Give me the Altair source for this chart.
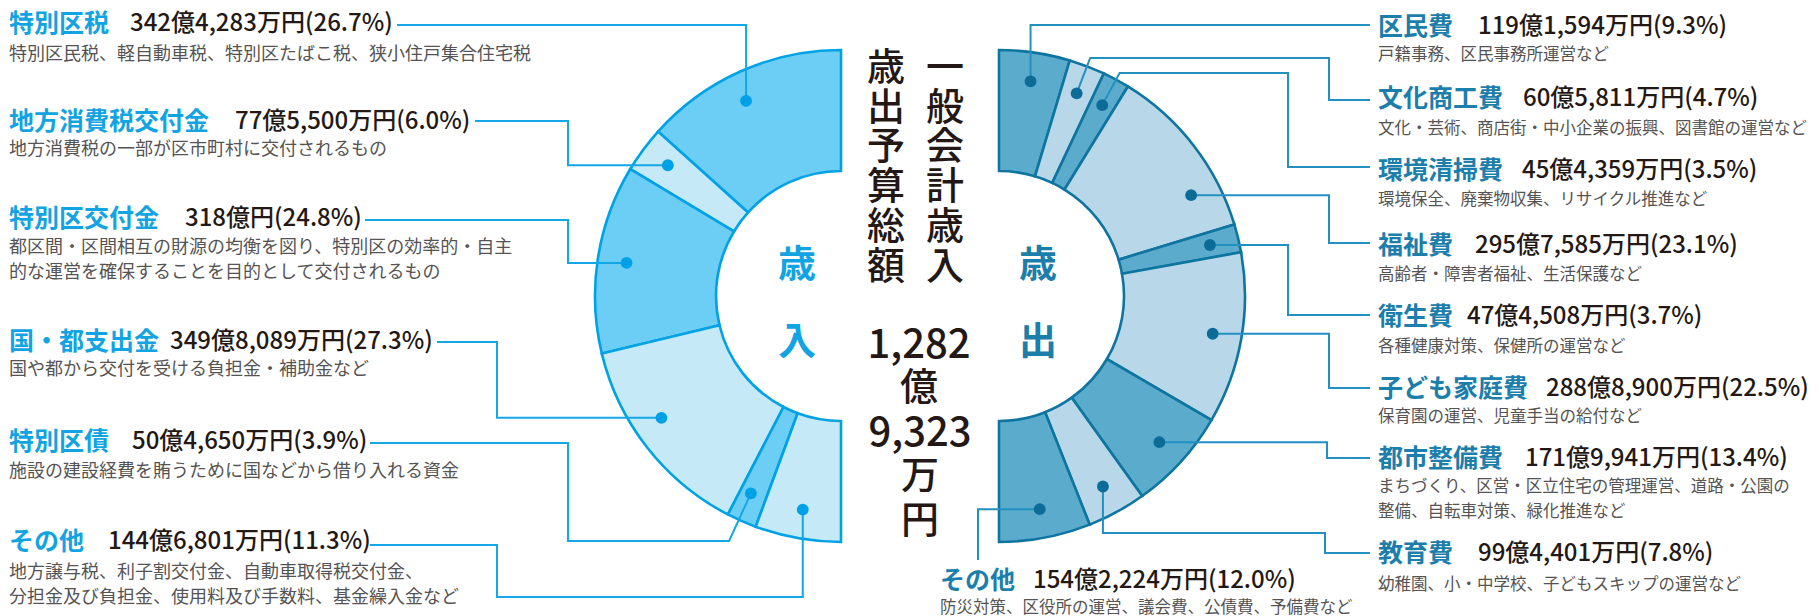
import math
import altair as alt
import pandas as pd

# ---------------- data ----------------
rev_names = ["特別区税", "地方消費税交付金", "特別区交付金", "国・都支出金", "特別区債", "その他"]
rev_values = [3424283, 775500, 3180000, 3498089, 504650, 1446801]  # 万円
rev_pct = [26.7, 6.0, 24.8, 27.3, 3.9, 11.3]
rev_notes = [
    ["特別区民税、軽自動車税、特別区たばこ税、狭小住戸集合住宅税"],
    ["地方消費税の一部が区市町村に交付されるもの"],
    ["都区間・区間相互の財源の均衡を図り、特別区の効率的・自主", "的な運営を確保することを目的として交付されるもの"],
    ["国や都から交付を受ける負担金・補助金など"],
    ["施設の建設経費を賄うために国などから借り入れる資金"],
    ["地方譲与税、利子割交付金、自動車取得税交付金、", "分担金及び負担金、使用料及び手数料、基金繰入金など"],
]

exp_names = ["区民費", "文化商工費", "環境清掃費", "福祉費", "衛生費", "子ども家庭費", "都市整備費", "教育費", "その他"]
exp_values = [1191594, 605811, 454359, 2957585, 474508, 2888900, 1719941, 994401, 1542224]  # 万円
exp_pct = [9.3, 4.7, 3.5, 23.1, 3.7, 22.5, 13.4, 7.8, 12.0]
exp_notes = [
    ["戸籍事務、区民事務所運営など"],
    ["文化・芸術、商店街・中小企業の振興、図書館の運営など"],
    ["環境保全、廃棄物収集、リサイクル推進など"],
    ["高齢者・障害者福祉、生活保護など"],
    ["各種健康対策、保健所の運営など"],
    ["保育園の運営、児童手当の給付など"],
    ["まちづくり、区営・区立住宅の管理運営、道路・公園の", "整備、自転車対策、緑化推進など"],
    ["幼稚園、小・中学校、子どもスキップの運営など"],
    ["防災対策、区役所の運営、議会費、公債費、予備費など"],
]

center_left_col = "歳出予算総額"
center_right_col = "一般会計歳入"
rev_side_label = "歳入"
exp_side_label = "歳出"

# ---------------- layout ----------------
W, H = 1819, 616
CX_L, CX_R, CY = 841, 999, 296
R_OUT, R_IN, R_DOT = 246, 125, 217

rev_dot_frac = [0.54, 0.45, 0.5, 0.42, 0.4, 0.5]
exp_dot_frac = [0.5, 0.5, 0.5, 0.74, 0.5, 0.5, 0.5, 0.5, 0.5]

rev_routes = [
    [("V", 25), ("H", 397)],
    [("H", 568), ("V", 121), ("H", 475)],
    [("H", 568), ("V", 220), ("H", 365)],
    [("H", 497), ("V", 342), ("H", 437)],
    [("R", 541), ("H", 568), ("V", 443), ("H", 370)],
    [("V", 597), ("H", 497), ("V", 545), ("H", 370)],
]
exp_routes = [
    [("V", 25), ("H", 1370)],
    [("R", 58), ("H", 1329), ("V", 100), ("H", 1370)],
    [("R", 73), ("H", 1288), ("V", 167), ("H", 1370)],
    [("H", 1329), ("V", 243), ("H", 1370)],
    [("H", 1288), ("V", 315), ("H", 1370)],
    [("H", 1329), ("V", 388), ("H", 1370)],
    [("H", 1327), ("V", 458), ("H", 1370)],
    [("V", 533), ("H", 1325), ("V", 553), ("H", 1370)],
    [("H", 978), ("V", 560)],
]

rev_title_x = [9] * 6
rev_title_y = [24, 122, 219, 342, 442, 542]
rev_amount_x = [130, 235, 185, 170, 132, 108]
rev_note_y = [55, 150, 248, 370, 472, 573]

exp_title_x = [1378] * 8 + [940]
exp_title_y = [27, 99, 170.5, 245.5, 317, 389, 459, 554, 580.5]
exp_amount_x = [1478, 1523, 1522, 1475, 1467, 1546, 1525, 1478, 1033]
exp_note_y = [55, 128.5, 200, 275, 346.5, 416.5, 486.5, 585, 607.5]
NOTE_STEP = 25

COL_X = {center_left_col: 886, center_right_col: 945}
COL_Y0, COL_STEP = 69, 39.7
SIDE_X = {rev_side_label: 797, exp_side_label: 1038}
SIDE_Y0, SIDE_STEP = 266, 77

# styles
REV_STROKE = "#00a2e6"
REV_FILLS = ["#6dcef5", "#c6e9f8"]
REV_TITLE = "#12a4e2"
REV_LINE = "#12a8e8"
REV_DOT = "#00a0e6"
EXP_STROKE = "#0e75a0"
EXP_FILLS = ["#5babcc", "#b8d8e9"]
EXP_TITLE = "#1b7eab"
EXP_LINE = "#2390c2"
EXP_DOT = "#0d6c97"
DARK = "#231815"
NOTE = "#555353"
JP = "Noto Sans CJK JP"
NOTE_SIZE = {"L": 18, "R": 16.5}


def fmt_amount(v, pct):
    oku, man = divmod(v, 10000)
    s = f"{oku}億" + (f"{man:,}万円" if man else "円")
    return f"{s}({pct:.1f}%)"


arc_rows, dot_rows, line_rows, text_rows = [], [], [], []


def build(names, values, pct, notes, side, fracs, routes, tx, ty, ax, ny):
    total = sum(values)
    cx = CX_L if side == "L" else CX_R
    sgn = -1 if side == "L" else 1
    fills = REV_FILLS if side == "L" else EXP_FILLS
    stroke = REV_STROKE if side == "L" else EXP_STROKE
    lcol = REV_LINE if side == "L" else EXP_LINE
    dcol = REV_DOT if side == "L" else EXP_DOT
    tcol = REV_TITLE if side == "L" else EXP_TITLE
    cum = 0.0
    for i, v in enumerate(values):
        f0, f1 = cum / total, (cum + v) / total
        cum += v
        if side == "L":
            t0, t1 = 2 * math.pi - f1 * math.pi, 2 * math.pi - f0 * math.pi
        else:
            t0, t1 = f0 * math.pi, f1 * math.pi
        arc_rows.append(dict(cx=cx, cy=CY, t0=t0, t1=t1, fill=fills[i % 2], stroke=stroke))
        ang = math.radians((f0 + (f1 - f0) * fracs[i]) * 180)
        px = cx + sgn * R_DOT * math.sin(ang)
        py = CY - R_DOT * math.cos(ang)
        dot_rows.append(dict(x=px, y=py, c=dcol))
        x, y = px, py
        pts = [(x, y)]
        for kind, val in routes[i]:
            if kind == "V":
                y = val
            elif kind == "H":
                x = val
            else:
                t = (val - py) / (py - CY)
                x, y = px + t * (px - cx), val
            pts.append((x, y))
        for k, (a, b) in enumerate(pts):
            line_rows.append(dict(key=f"{side}{i}", o=k, x=a, y=b, c=lcol))
        text_rows.append(dict(kind="title", x=tx[i], y=ty[i], t=names[i], c=tcol, s=25))
        text_rows.append(dict(kind="amount", x=ax[i], y=ty[i], t=fmt_amount(v, pct[i]), c=DARK, s=24))
        for k, line in enumerate(notes[i]):
            text_rows.append(dict(kind="note", x=tx[i], y=ny[i] + k * NOTE_STEP, t=line, c=NOTE,
                                  s=NOTE_SIZE[side]))


build(rev_names, rev_values, rev_pct, rev_notes, "L", rev_dot_frac, rev_routes,
      rev_title_x, rev_title_y, rev_amount_x, rev_note_y)
build(exp_names, exp_values, exp_pct, exp_notes, "R", exp_dot_frac, exp_routes,
      exp_title_x, exp_title_y, exp_amount_x, exp_note_y)

total = sum(rev_values)
oku, man = divmod(total, 10000)
num_rows = [dict(x=919, y=346, t=f"{oku:,}"), dict(x=920, y=434, t=f"{man:,}")]
kan_rows = [dict(x=919, y=389, t="億"), dict(x=920, y=477, t="万"), dict(x=920, y=522, t="円")]

# vertical texts: one row per character
col_rows = []
for word, cx in COL_X.items():
    for k, ch in enumerate(word):
        col_rows.append(dict(x=cx, y=COL_Y0 + k * COL_STEP, t=ch))
side_rows = []
for word, cx in SIDE_X.items():
    col = REV_TITLE if word == rev_side_label else EXP_TITLE
    for k, ch in enumerate(word):
        side_rows.append(dict(x=cx, y=SIDE_Y0 + k * SIDE_STEP, t=ch, c=col))

xs = alt.Scale(domain=[0, W], range=[0, W])
ys = alt.Scale(domain=[0, H], range=[0, H])
X = lambda f="x": alt.X(f"{f}:Q", scale=xs, axis=None)
Y = lambda f="y": alt.Y(f"{f}:Q", scale=ys, axis=None)

arcs = alt.Chart(pd.DataFrame(arc_rows)).mark_arc(strokeWidth=2.6, strokeJoin="miter").encode(
    x=X("cx"), y=Y("cy"),
    theta=alt.Theta("t0:Q", scale=None, stack=False),
    theta2="t1:Q",
    radius=alt.value(R_OUT), radius2=alt.value(R_IN),
    fill=alt.Fill("fill:N", scale=None),
    stroke=alt.Stroke("stroke:N", scale=None),
)

lines = alt.Chart(pd.DataFrame(line_rows)).mark_line(strokeWidth=2, strokeCap="butt").encode(
    x=X(), y=Y(), order="o:Q", detail="key:N",
    color=alt.Color("c:N", scale=None),
)

dots = alt.Chart(pd.DataFrame(dot_rows)).mark_circle(size=140, opacity=1).encode(
    x=X(), y=Y(), color=alt.Color("c:N", scale=None),
)

tdf = pd.DataFrame(text_rows)
titles = alt.Chart(tdf[tdf.kind == "title"]).mark_text(
    align="left", baseline="middle", font=JP, fontWeight="bold"
).encode(x=X(), y=Y(), text="t:N", color=alt.Color("c:N", scale=None),
         size=alt.Size("s:Q", scale=None))
amounts = alt.Chart(tdf[tdf.kind == "amount"]).mark_text(
    align="left", baseline="middle", font=JP, fontWeight=500
).encode(x=X(), y=Y(), text="t:N", color=alt.Color("c:N", scale=None),
         size=alt.Size("s:Q", scale=None))
notes_l = alt.Chart(tdf[tdf.kind == "note"]).mark_text(
    align="left", baseline="middle", font=JP
).encode(x=X(), y=Y(), text="t:N", color=alt.Color("c:N", scale=None),
         size=alt.Size("s:Q", scale=None))

nums = alt.Chart(pd.DataFrame(num_rows)).mark_text(
    align="center", baseline="middle", font=JP, fontSize=40, fontWeight=500, color=DARK
).encode(x=X(), y=Y(), text="t:N")
kans = alt.Chart(pd.DataFrame(kan_rows)).mark_text(
    align="center", baseline="middle", font=JP, fontSize=38, fontWeight=500, color=DARK
).encode(x=X(), y=Y(), text="t:N")
cols = alt.Chart(pd.DataFrame(col_rows)).mark_text(
    align="center", baseline="middle", font=JP, fontSize=38, fontWeight=500, color=DARK
).encode(x=X(), y=Y(), text="t:N")
sides = alt.Chart(pd.DataFrame(side_rows)).mark_text(
    align="center", baseline="middle", font=JP, fontSize=38, fontWeight="bold"
).encode(x=X(), y=Y(), text="t:N", color=alt.Color("c:N", scale=None))

chart = alt.layer(arcs, lines, dots, titles, amounts, notes_l, nums, kans, cols, sides).properties(
    width=W, height=H, padding=0, autosize="none", background="white"
).configure_view(stroke=None)

chart.save("out.html", embed_options={"renderer": "svg", "actions": False})
